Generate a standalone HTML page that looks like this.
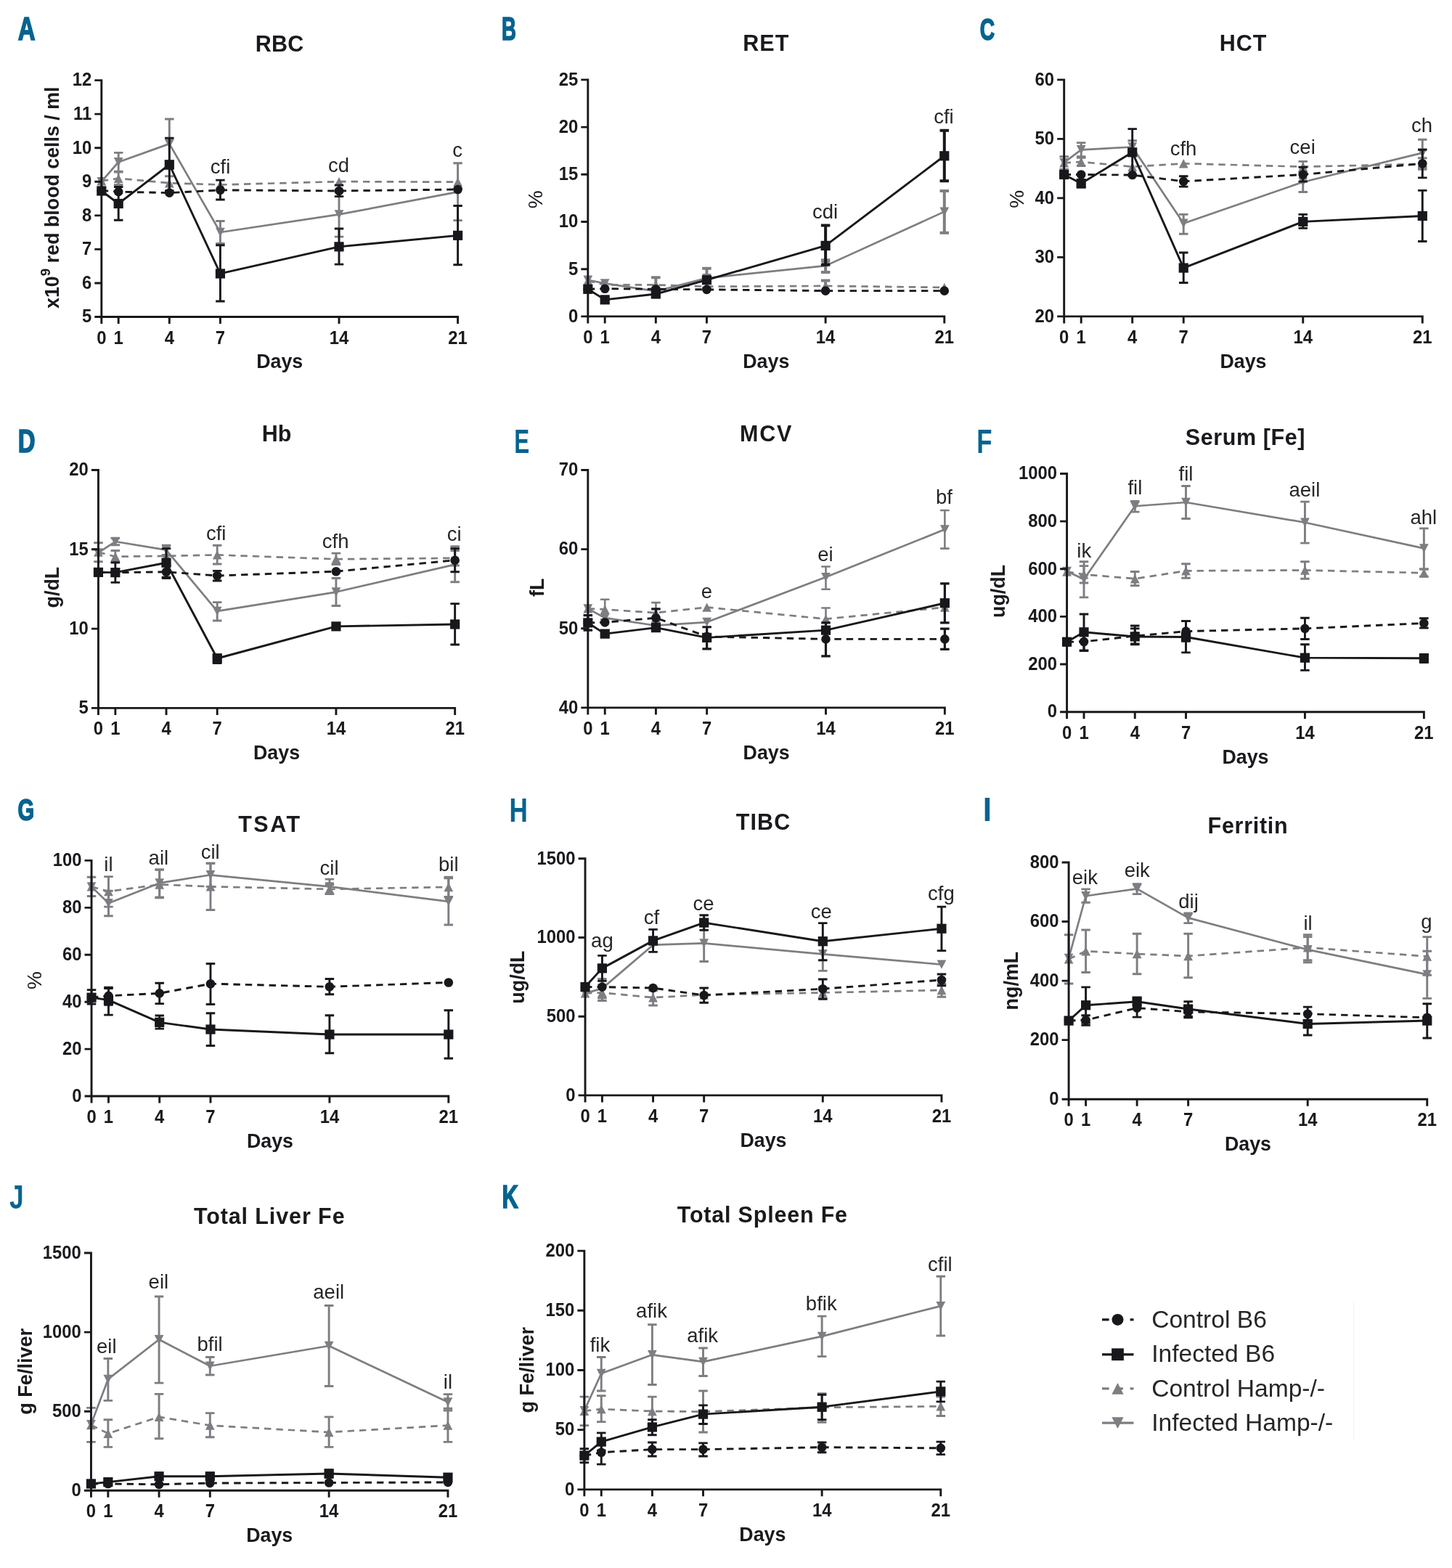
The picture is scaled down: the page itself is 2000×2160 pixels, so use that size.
<!DOCTYPE html>
<html lang="en">
<head>
<meta charset="utf-8">
<title>Hematological and iron parameters</title>
<style>
html,body{margin:0;padding:0;background:#fff;}
svg{display:block;}
svg text{font-family:"Liberation Sans",sans-serif;}
</style>
</head>
<body>
<svg width="2000" height="2160" viewBox="0 0 2000 2160">
<rect width="2000" height="2160" fill="#fff"/>
<g id="panelA">
<g stroke="#7d7e82" fill="none"><path d="M163.18 210.39V236.1M156.93 210.39h12.5M156.93 236.1h12.5M233.3 163.93V232.89M227.05 163.93h12.5M227.05 232.89h12.5M303.41 304.48V335.45M297.16 304.48h12.5M297.16 335.45h12.5M467.01 264.74V326.1M460.76 264.74h12.5M460.76 326.1h12.5M630.6 224.71V303.6M624.35 224.71h12.5M624.35 303.6h12.5" stroke-width="2.9"/><path d="M139.81 250.13L163.18 223.25L233.3 198.12L303.41 319.97L467.01 295.42L630.6 264.45" stroke-width="2.7" stroke-linejoin="round"/></g><path d="M133.41 243.93L146.21 243.93L139.81 256.33Z" fill="#7d7e82"/><path d="M156.78 217.05L169.58 217.05L163.18 229.45Z" fill="#7d7e82"/><path d="M226.9 191.92L239.7 191.92L233.3 204.32Z" fill="#7d7e82"/><path d="M297.01 313.77L309.81 313.77L303.41 326.17Z" fill="#7d7e82"/><path d="M460.61 289.22L473.41 289.22L467.01 301.62Z" fill="#7d7e82"/><path d="M624.2 258.25L637 258.25L630.6 270.65Z" fill="#7d7e82"/>
<g stroke="#7d7e82" fill="none"><path d="M163.18 236.98V254.51M156.93 236.98h12.5M156.93 254.51h12.5M233.3 242.82V262.4M227.05 242.82h12.5M227.05 262.4h12.5" stroke-width="2.9"/><path d="M139.81 249.25L163.18 245.75L233.3 252.18L303.41 254.51L467.01 250.13L630.6 250.71" stroke-width="2.7" stroke-linejoin="round" stroke-dasharray="9.4 7" stroke-linecap="butt"/></g><path d="M133.41 255.45L146.21 255.45L139.81 243.05Z" fill="#7d7e82"/><path d="M156.78 251.95L169.58 251.95L163.18 239.55Z" fill="#7d7e82"/><path d="M226.9 258.38L239.7 258.38L233.3 245.98Z" fill="#7d7e82"/><path d="M297.01 260.71L309.81 260.71L303.41 248.31Z" fill="#7d7e82"/><path d="M460.61 256.33L473.41 256.33L467.01 243.93Z" fill="#7d7e82"/><path d="M624.2 256.91L637 256.91L630.6 244.51Z" fill="#7d7e82"/>
<g stroke="#18181c" fill="none"><path d="M163.18 257.44V303.31M156.93 257.44h12.5M156.93 303.31h12.5M233.3 190.23V263.28M227.05 190.23h12.5M227.05 263.28h12.5M303.41 337.79V414.94M297.16 337.79h12.5M297.16 414.94h12.5M467.01 315V364.09M460.76 315h12.5M460.76 364.09h12.5M630.6 283.44V364.68M624.35 283.44h12.5M624.35 364.68h12.5" stroke-width="2.9"/><path d="M139.81 262.99L163.18 280.52L233.3 226.75L303.41 376.95L467.01 339.84L630.6 324.35" stroke-width="2.9" stroke-linejoin="round"/></g><rect x="133.21" y="256.39" width="13.2" height="13.2" fill="#18181c"/><rect x="156.58" y="273.92" width="13.2" height="13.2" fill="#18181c"/><rect x="226.7" y="220.15" width="13.2" height="13.2" fill="#18181c"/><rect x="296.81" y="370.35" width="13.2" height="13.2" fill="#18181c"/><rect x="460.41" y="333.24" width="13.2" height="13.2" fill="#18181c"/><rect x="624" y="317.75" width="13.2" height="13.2" fill="#18181c"/>
<g stroke="#18181c" fill="none"><path d="M303.41 248.08V274.97M297.16 248.08h12.5M297.16 274.97h12.5M467.01 255.1V270.58M460.76 255.1h12.5M460.76 270.58h12.5" stroke-width="2.9"/><path d="M139.81 262.4L163.18 264.16L233.3 265.62L303.41 261.82L467.01 262.99L630.6 260.94" stroke-width="2.9" stroke-linejoin="round" stroke-dasharray="9.4 7" stroke-linecap="butt"/></g><circle cx="139.81" cy="262.4" r="6.3" fill="#18181c"/><circle cx="163.18" cy="264.16" r="6.3" fill="#18181c"/><circle cx="233.3" cy="265.62" r="6.3" fill="#18181c"/><circle cx="303.41" cy="261.82" r="6.3" fill="#18181c"/><circle cx="467.01" cy="262.99" r="6.3" fill="#18181c"/><circle cx="630.6" cy="260.94" r="6.3" fill="#18181c"/>
<path d="M139.81 109.15V446M130.31 436.5H632.05M130.31 389.94H139.81M130.31 343.39H139.81M130.31 296.83H139.81M130.31 250.27H139.81M130.31 203.71H139.81M130.31 157.16H139.81M130.31 110.6H139.81M163.18 436.5V446M233.3 436.5V446M303.41 436.5V446M467.01 436.5V446M630.6 436.5V446" stroke="#18181c" stroke-width="2.9" fill="none"/>
<g font-weight="bold" font-size="26.5" fill="#1a1a1e"><text transform="translate(126.21 444.3) scale(0.9 1)" text-anchor="end">5</text><text transform="translate(126.21 397.74) scale(0.9 1)" text-anchor="end">6</text><text transform="translate(126.21 351.19) scale(0.9 1)" text-anchor="end">7</text><text transform="translate(126.21 304.63) scale(0.9 1)" text-anchor="end">8</text><text transform="translate(126.21 258.07) scale(0.9 1)" text-anchor="end">9</text><text transform="translate(126.21 211.51) scale(0.9 1)" text-anchor="end">10</text><text transform="translate(126.21 164.96) scale(0.9 1)" text-anchor="end">11</text><text transform="translate(126.21 118.4) scale(0.9 1)" text-anchor="end">12</text><text transform="translate(139.81 473.5) scale(0.9 1)" text-anchor="middle">0</text><text transform="translate(163.18 473.5) scale(0.9 1)" text-anchor="middle">1</text><text transform="translate(233.3 473.5) scale(0.9 1)" text-anchor="middle">4</text><text transform="translate(303.41 473.5) scale(0.9 1)" text-anchor="middle">7</text><text transform="translate(467.01 473.5) scale(0.9 1)" text-anchor="middle">14</text><text transform="translate(630.6 473.5) scale(0.9 1)" text-anchor="middle">21</text></g>
<text x="385.21" y="71" text-anchor="middle" font-weight="bold" font-size="30.5" fill="#1a1a1e" letter-spacing="0.3">RBC</text>
<text x="385.21" y="507.4" text-anchor="middle" font-weight="bold" font-size="26.8" fill="#1a1a1e">Days</text>
<text transform="translate(81.4 272.2) rotate(-90)" text-anchor="middle" font-weight="bold" font-size="26.8" fill="#1a1a1e">x10<tspan dy="-12.5" font-size="19">9</tspan><tspan dy="12.5"> red blood cells / ml</tspan></text>
<g font-size="27.5" fill="#262626" text-anchor="middle"><text x="303.51" y="239.44">cfi</text><text x="466.56" y="237.1">cd</text><text x="630.19" y="216.06">c</text></g>
<text transform="translate(24.8 55.3) scale(0.7368 1)" font-weight="bold" font-size="44.85" fill="#06638f" stroke="#06638f" stroke-width="1.7" stroke-linejoin="miter">A</text>
</g>
<g id="panelB">
<g stroke="#7d7e82" fill="none"><path d="M973.47 369.64V396.82M967.22 369.64h12.5M967.22 396.82h12.5M1137.12 358.25V374.9M1130.87 358.25h12.5M1130.87 374.9h12.5M1300.78 262.99V320.84M1294.53 262.99h12.5M1294.53 320.84h12.5" stroke-width="4.0"/><path d="M809.81 385.71L833.19 390.39L903.33 401.2L973.47 383.08L1137.12 366.14L1300.78 291.62" stroke-width="2.7" stroke-linejoin="round"/></g><path d="M803.41 379.51L816.21 379.51L809.81 391.91Z" fill="#7d7e82"/><path d="M826.79 384.19L839.59 384.19L833.19 396.59Z" fill="#7d7e82"/><path d="M896.93 395L909.73 395L903.33 407.4Z" fill="#7d7e82"/><path d="M967.07 376.88L979.87 376.88L973.47 389.28Z" fill="#7d7e82"/><path d="M1130.72 359.94L1143.52 359.94L1137.12 372.34Z" fill="#7d7e82"/><path d="M1294.38 285.42L1307.18 285.42L1300.78 297.82Z" fill="#7d7e82"/>
<g stroke="#7d7e82" fill="none"><path d="M903.33 382.21V402.66M897.08 382.21h12.5M897.08 402.66h12.5M1137.12 386.59V401.2M1130.87 386.59h12.5M1130.87 401.2h12.5" stroke-width="4.0"/><path d="M809.81 386.59L833.19 392.44L903.33 392.44L973.47 394.77L1137.12 393.9L1300.78 395.94" stroke-width="2.7" stroke-linejoin="round" stroke-dasharray="9.4 7" stroke-linecap="butt"/></g><path d="M803.41 392.79L816.21 392.79L809.81 380.39Z" fill="#7d7e82"/><path d="M826.79 398.64L839.59 398.64L833.19 386.24Z" fill="#7d7e82"/><path d="M896.93 398.64L909.73 398.64L903.33 386.24Z" fill="#7d7e82"/><path d="M967.07 400.97L979.87 400.97L973.47 388.57Z" fill="#7d7e82"/><path d="M1130.72 400.1L1143.52 400.1L1137.12 387.7Z" fill="#7d7e82"/><path d="M1294.38 402.14L1307.18 402.14L1300.78 389.74Z" fill="#7d7e82"/>
<g stroke="#18181c" fill="none"><path d="M1137.12 310.62V364.68M1130.87 310.62h12.5M1130.87 364.68h12.5M1300.78 179.71V249.25M1294.53 179.71h12.5M1294.53 249.25h12.5" stroke-width="4.0"/><path d="M809.81 398.28L833.19 412.89L903.33 405L973.47 385.71L1137.12 338.38L1300.78 214.77" stroke-width="2.9" stroke-linejoin="round"/></g><rect x="803.21" y="391.68" width="13.2" height="13.2" fill="#18181c"/><rect x="826.59" y="406.29" width="13.2" height="13.2" fill="#18181c"/><rect x="896.73" y="398.4" width="13.2" height="13.2" fill="#18181c"/><rect x="966.87" y="379.11" width="13.2" height="13.2" fill="#18181c"/><rect x="1130.52" y="331.78" width="13.2" height="13.2" fill="#18181c"/><rect x="1294.18" y="208.17" width="13.2" height="13.2" fill="#18181c"/>
<g stroke="#18181c" fill="none"><path d="M809.81 398.28L833.19 397.69L903.33 398.28L973.47 398.86L1137.12 400.62L1300.78 400.62" stroke-width="2.9" stroke-linejoin="round" stroke-dasharray="9.4 7" stroke-linecap="butt"/></g><circle cx="809.81" cy="398.28" r="6.3" fill="#18181c"/><circle cx="833.19" cy="397.69" r="6.3" fill="#18181c"/><circle cx="903.33" cy="398.28" r="6.3" fill="#18181c"/><circle cx="973.47" cy="398.86" r="6.3" fill="#18181c"/><circle cx="1137.12" cy="400.62" r="6.3" fill="#18181c"/><circle cx="1300.78" cy="400.62" r="6.3" fill="#18181c"/>
<path d="M809.81 108.42V445.42M800.31 435.92H1302.23M800.31 370.71H809.81M800.31 305.5H809.81M800.31 240.29H809.81M800.31 175.08H809.81M800.31 109.87H809.81M833.19 435.92V445.42M903.33 435.92V445.42M973.47 435.92V445.42M1137.12 435.92V445.42M1300.78 435.92V445.42" stroke="#18181c" stroke-width="2.9" fill="none"/>
<g font-weight="bold" font-size="26.5" fill="#1a1a1e"><text transform="translate(796.21 443.72) scale(0.9 1)" text-anchor="end">0</text><text transform="translate(796.21 378.51) scale(0.9 1)" text-anchor="end">5</text><text transform="translate(796.21 313.3) scale(0.9 1)" text-anchor="end">10</text><text transform="translate(796.21 248.09) scale(0.9 1)" text-anchor="end">15</text><text transform="translate(796.21 182.88) scale(0.9 1)" text-anchor="end">20</text><text transform="translate(796.21 117.67) scale(0.9 1)" text-anchor="end">25</text><text transform="translate(809.81 472.92) scale(0.9 1)" text-anchor="middle">0</text><text transform="translate(833.19 472.92) scale(0.9 1)" text-anchor="middle">1</text><text transform="translate(903.33 472.92) scale(0.9 1)" text-anchor="middle">4</text><text transform="translate(973.47 472.92) scale(0.9 1)" text-anchor="middle">7</text><text transform="translate(1137.12 472.92) scale(0.9 1)" text-anchor="middle">14</text><text transform="translate(1300.78 472.92) scale(0.9 1)" text-anchor="middle">21</text></g>
<text x="1055.3" y="70.27" text-anchor="middle" font-weight="bold" font-size="30.5" fill="#1a1a1e" letter-spacing="1.1">RET</text>
<text x="1055.3" y="506.82" text-anchor="middle" font-weight="bold" font-size="26.8" fill="#1a1a1e">Days</text>
<text transform="translate(747.42 287.16) rotate(-90)" font-weight="normal" font-size="28.0" fill="#1a1a1e">%</text>
<g font-size="27.5" fill="#262626" text-anchor="middle"><text x="1136.56" y="300.81">cdi</text><text x="1299.9" y="170.48">cfi</text></g>
<text transform="translate(691.07 55.15) scale(0.6275 1)" font-weight="bold" font-size="43.91" fill="#06638f" stroke="#06638f" stroke-width="1.7" stroke-linejoin="miter">B</text>
</g>
<g id="panelC">
<g stroke="#7d7e82" fill="none"><path d="M1489.19 196.66V215.65M1482.94 196.66h12.5M1482.94 215.65h12.5M1559.71 193.73V211.27M1553.46 193.73h12.5M1553.46 211.27h12.5M1630.22 295.42V322.31M1623.97 295.42h12.5M1623.97 322.31h12.5M1794.75 237.56V264.45M1788.5 237.56h12.5M1788.5 264.45h12.5M1959.29 192.27V229.68M1953.04 192.27h12.5M1953.04 229.68h12.5" stroke-width="2.9"/><path d="M1465.69 223.83L1489.19 206.3L1559.71 202.5L1630.22 307.69L1794.75 250.71L1959.29 210.68" stroke-width="2.7" stroke-linejoin="round"/></g><path d="M1459.29 217.63L1472.09 217.63L1465.69 230.03Z" fill="#7d7e82"/><path d="M1482.79 200.1L1495.59 200.1L1489.19 212.5Z" fill="#7d7e82"/><path d="M1553.31 196.3L1566.11 196.3L1559.71 208.7Z" fill="#7d7e82"/><path d="M1623.82 301.49L1636.62 301.49L1630.22 313.89Z" fill="#7d7e82"/><path d="M1788.35 244.51L1801.15 244.51L1794.75 256.91Z" fill="#7d7e82"/><path d="M1952.89 204.48L1965.69 204.48L1959.29 216.88Z" fill="#7d7e82"/>
<g stroke="#7d7e82" fill="none"><path d="M1465.69 215.65V233.18M1459.44 215.65h12.5M1459.44 233.18h12.5M1489.19 217.4V228.51M1482.94 217.4h12.5M1482.94 228.51h12.5M1794.75 222.37V236.98M1788.5 222.37h12.5M1788.5 236.98h12.5M1959.29 217.69V233.18M1953.04 217.69h12.5M1953.04 233.18h12.5" stroke-width="2.9"/><path d="M1465.69 224.42L1489.19 222.95L1559.71 229.68L1630.22 225.29L1794.75 229.68L1959.29 225.88" stroke-width="2.7" stroke-linejoin="round" stroke-dasharray="9.4 7" stroke-linecap="butt"/></g><path d="M1459.29 230.62L1472.09 230.62L1465.69 218.22Z" fill="#7d7e82"/><path d="M1482.79 229.15L1495.59 229.15L1489.19 216.75Z" fill="#7d7e82"/><path d="M1553.31 235.88L1566.11 235.88L1559.71 223.48Z" fill="#7d7e82"/><path d="M1623.82 231.49L1636.62 231.49L1630.22 219.09Z" fill="#7d7e82"/><path d="M1788.35 235.88L1801.15 235.88L1794.75 223.48Z" fill="#7d7e82"/><path d="M1952.89 232.08L1965.69 232.08L1959.29 219.68Z" fill="#7d7e82"/>
<g stroke="#18181c" fill="none"><path d="M1489.19 247.79V258.02M1482.94 247.79h12.5M1482.94 258.02h12.5M1559.71 177.66V241.95M1553.46 177.66h12.5M1553.46 241.95h12.5M1630.22 348.02V389.51M1623.97 348.02h12.5M1623.97 389.51h12.5M1794.75 295.42V314.42M1788.5 295.42h12.5M1788.5 314.42h12.5M1959.29 262.4V332.53M1953.04 262.4h12.5M1953.04 332.53h12.5" stroke-width="2.9"/><path d="M1465.69 240.49L1489.19 252.76L1559.71 209.81L1630.22 369.06L1794.75 305.36L1959.29 297.47" stroke-width="2.9" stroke-linejoin="round"/></g><rect x="1459.09" y="233.89" width="13.2" height="13.2" fill="#18181c"/><rect x="1482.59" y="246.16" width="13.2" height="13.2" fill="#18181c"/><rect x="1553.11" y="203.21" width="13.2" height="13.2" fill="#18181c"/><rect x="1623.62" y="362.46" width="13.2" height="13.2" fill="#18181c"/><rect x="1788.15" y="298.76" width="13.2" height="13.2" fill="#18181c"/><rect x="1952.69" y="290.87" width="13.2" height="13.2" fill="#18181c"/>
<g stroke="#18181c" fill="none"><path d="M1630.22 242.82V257.14M1623.97 242.82h12.5M1623.97 257.14h12.5M1794.75 230.26V250.13M1788.5 230.26h12.5M1788.5 250.13h12.5M1959.29 206.3V244.87M1953.04 206.3h12.5M1953.04 244.87h12.5" stroke-width="2.9"/><path d="M1465.69 240.49L1489.19 240.49L1559.71 241.07L1630.22 249.84L1794.75 240.49L1959.29 225.29" stroke-width="2.9" stroke-linejoin="round" stroke-dasharray="9.4 7" stroke-linecap="butt"/></g><circle cx="1465.69" cy="240.49" r="6.3" fill="#18181c"/><circle cx="1489.19" cy="240.49" r="6.3" fill="#18181c"/><circle cx="1559.71" cy="241.07" r="6.3" fill="#18181c"/><circle cx="1630.22" cy="249.84" r="6.3" fill="#18181c"/><circle cx="1794.75" cy="240.49" r="6.3" fill="#18181c"/><circle cx="1959.29" cy="225.29" r="6.3" fill="#18181c"/>
<path d="M1465.69 108.42V445.42M1456.19 435.92H1960.74M1456.19 354.4H1465.69M1456.19 272.89H1465.69M1456.19 191.38H1465.69M1456.19 109.87H1465.69M1489.19 435.92V445.42M1559.71 435.92V445.42M1630.22 435.92V445.42M1794.75 435.92V445.42M1959.29 435.92V445.42" stroke="#18181c" stroke-width="2.9" fill="none"/>
<g font-weight="bold" font-size="26.5" fill="#1a1a1e"><text transform="translate(1452.09 443.72) scale(0.9 1)" text-anchor="end">20</text><text transform="translate(1452.09 362.2) scale(0.9 1)" text-anchor="end">30</text><text transform="translate(1452.09 280.69) scale(0.9 1)" text-anchor="end">40</text><text transform="translate(1452.09 199.18) scale(0.9 1)" text-anchor="end">50</text><text transform="translate(1452.09 117.67) scale(0.9 1)" text-anchor="end">60</text><text transform="translate(1465.69 472.92) scale(0.9 1)" text-anchor="middle">0</text><text transform="translate(1489.19 472.92) scale(0.9 1)" text-anchor="middle">1</text><text transform="translate(1559.71 472.92) scale(0.9 1)" text-anchor="middle">4</text><text transform="translate(1630.22 472.92) scale(0.9 1)" text-anchor="middle">7</text><text transform="translate(1794.75 472.92) scale(0.9 1)" text-anchor="middle">14</text><text transform="translate(1959.29 472.92) scale(0.9 1)" text-anchor="middle">21</text></g>
<text x="1712.49" y="70.27" text-anchor="middle" font-weight="bold" font-size="30.5" fill="#1a1a1e" letter-spacing="0.9">HCT</text>
<text x="1712.49" y="506.82" text-anchor="middle" font-weight="bold" font-size="26.8" fill="#1a1a1e">Days</text>
<text transform="translate(1409.72 286.76) rotate(-90)" font-weight="normal" font-size="28.0" fill="#1a1a1e">%</text>
<g font-size="27.5" fill="#262626" text-anchor="middle"><text x="1629.97" y="213.73">cfh</text><text x="1794.19" y="211.68">cei</text><text x="1958.41" y="182.46">ch</text></g>
<text transform="translate(1349.67 54.72) scale(0.6601 1)" font-weight="bold" font-size="42.68" fill="#06638f" stroke="#06638f" stroke-width="1.7" stroke-linejoin="miter">C</text>
</g>
<g id="panelD">
<g stroke="#7d7e82" fill="none"><path d="M158.85 741.33V750.68M152.6 741.33h12.5M152.6 750.68h12.5M229.02 751.27V764.42M222.77 751.27h12.5M222.77 764.42h12.5M299.19 829.58V855M292.94 829.58h12.5M292.94 855h12.5M462.92 796.56V834.55M456.67 796.56h12.5M456.67 834.55h12.5M626.66 752.73V801.82M620.41 752.73h12.5M620.41 801.82h12.5" stroke-width="2.9"/><path d="M135.45 761.49L158.85 746.01L229.02 757.69L299.19 841.85L462.92 815.55L626.66 777.56" stroke-width="2.7" stroke-linejoin="round"/></g><path d="M129.05 755.29L141.85 755.29L135.45 767.69Z" fill="#7d7e82"/><path d="M152.45 739.81L165.25 739.81L158.85 752.21Z" fill="#7d7e82"/><path d="M222.62 751.49L235.42 751.49L229.02 763.89Z" fill="#7d7e82"/><path d="M292.79 835.65L305.59 835.65L299.19 848.05Z" fill="#7d7e82"/><path d="M456.52 809.35L469.32 809.35L462.92 821.75Z" fill="#7d7e82"/><path d="M620.26 771.36L633.06 771.36L626.66 783.76Z" fill="#7d7e82"/>
<g stroke="#7d7e82" fill="none"><path d="M135.45 747.76V773.77M129.2 747.76h12.5M129.2 773.77h12.5M158.85 758.57V775.23M152.6 758.57h12.5M152.6 775.23h12.5M299.19 751.27V776.98M292.94 751.27h12.5M292.94 776.98h12.5M462.92 762.08V777.56M456.67 762.08h12.5M456.67 777.56h12.5M626.66 758.57V779.03M620.41 758.57h12.5M620.41 779.03h12.5" stroke-width="2.9"/><path d="M135.45 760.62L158.85 766.75L229.02 765.88L299.19 764.42L462.92 770.26L626.66 768.8" stroke-width="2.7" stroke-linejoin="round" stroke-dasharray="9.4 7" stroke-linecap="butt"/></g><path d="M129.05 766.82L141.85 766.82L135.45 754.42Z" fill="#7d7e82"/><path d="M152.45 772.95L165.25 772.95L158.85 760.55Z" fill="#7d7e82"/><path d="M222.62 772.08L235.42 772.08L229.02 759.68Z" fill="#7d7e82"/><path d="M292.79 770.62L305.59 770.62L299.19 758.22Z" fill="#7d7e82"/><path d="M456.52 776.46L469.32 776.46L462.92 764.06Z" fill="#7d7e82"/><path d="M620.26 775L633.06 775L626.66 762.6Z" fill="#7d7e82"/>
<g stroke="#18181c" fill="none"><path d="M158.85 774.64V802.4M152.6 774.64h12.5M152.6 802.4h12.5M229.02 755.65V795.1M222.77 755.65h12.5M222.77 795.1h12.5M299.19 901.75V913.44M292.94 901.75h12.5M292.94 913.44h12.5M626.66 831.62V888.02M620.41 831.62h12.5M620.41 888.02h12.5" stroke-width="2.9"/><path d="M135.45 788.38L158.85 788.67L229.02 775.23L299.19 907.01L462.92 862.89L626.66 859.97" stroke-width="2.9" stroke-linejoin="round"/></g><rect x="128.85" y="781.78" width="13.2" height="13.2" fill="#18181c"/><rect x="152.25" y="782.07" width="13.2" height="13.2" fill="#18181c"/><rect x="222.42" y="768.63" width="13.2" height="13.2" fill="#18181c"/><rect x="292.59" y="900.41" width="13.2" height="13.2" fill="#18181c"/><rect x="456.32" y="856.29" width="13.2" height="13.2" fill="#18181c"/><rect x="620.06" y="853.37" width="13.2" height="13.2" fill="#18181c"/>
<g stroke="#18181c" fill="none"><path d="M229.02 779.03V796.56M222.77 779.03h12.5M222.77 796.56h12.5M299.19 786.33V800.06M292.94 786.33h12.5M292.94 800.06h12.5M626.66 755.65V787.79M620.41 755.65h12.5M620.41 787.79h12.5" stroke-width="2.9"/><path d="M135.45 788.38L158.85 788.67L229.02 787.79L299.19 793.05L462.92 787.21L626.66 771.72" stroke-width="2.9" stroke-linejoin="round" stroke-dasharray="9.4 7" stroke-linecap="butt"/></g><circle cx="135.45" cy="788.38" r="6.3" fill="#18181c"/><circle cx="158.85" cy="788.67" r="6.3" fill="#18181c"/><circle cx="229.02" cy="787.79" r="6.3" fill="#18181c"/><circle cx="299.19" cy="793.05" r="6.3" fill="#18181c"/><circle cx="462.92" cy="787.21" r="6.3" fill="#18181c"/><circle cx="626.66" cy="771.72" r="6.3" fill="#18181c"/>
<path d="M135.45 646.08V984.89M125.95 975.39H628.11M125.95 866.1H135.45M125.95 756.82H135.45M125.95 647.53H135.45M158.85 975.39V984.89M229.02 975.39V984.89M299.19 975.39V984.89M462.92 975.39V984.89M626.66 975.39V984.89" stroke="#18181c" stroke-width="2.9" fill="none"/>
<g font-weight="bold" font-size="26.5" fill="#1a1a1e"><text transform="translate(121.85 983.19) scale(0.9 1)" text-anchor="end">5</text><text transform="translate(121.85 873.9) scale(0.9 1)" text-anchor="end">10</text><text transform="translate(121.85 764.62) scale(0.9 1)" text-anchor="end">15</text><text transform="translate(121.85 655.33) scale(0.9 1)" text-anchor="end">20</text><text transform="translate(135.45 1012.39) scale(0.9 1)" text-anchor="middle">0</text><text transform="translate(158.85 1012.39) scale(0.9 1)" text-anchor="middle">1</text><text transform="translate(229.02 1012.39) scale(0.9 1)" text-anchor="middle">4</text><text transform="translate(299.19 1012.39) scale(0.9 1)" text-anchor="middle">7</text><text transform="translate(462.92 1012.39) scale(0.9 1)" text-anchor="middle">14</text><text transform="translate(626.66 1012.39) scale(0.9 1)" text-anchor="middle">21</text></g>
<text x="381.06" y="607.93" text-anchor="middle" font-weight="bold" font-size="30.5" fill="#1a1a1e">Hb</text>
<text x="381.06" y="1046.29" text-anchor="middle" font-weight="bold" font-size="26.8" fill="#1a1a1e">Days</text>
<text transform="translate(80.59 837.51) rotate(-90)" font-weight="bold" font-size="26.9" fill="#1a1a1e">g/dL</text>
<g font-size="27.5" fill="#262626" text-anchor="middle"><text x="297.63" y="743.5">cfi</text><text x="462.14" y="755.19">cfh</text><text x="625.78" y="744.96">ci</text></g>
<text transform="translate(24.79 623.15) scale(0.7386 1)" font-weight="bold" font-size="44.64" fill="#06638f" stroke="#06638f" stroke-width="1.7" stroke-linejoin="miter">D</text>
</g>
<g id="panelE">
<g stroke="#7d7e82" fill="none"><path d="M1137.51 780.49V811.75M1131.26 780.49h12.5M1131.26 811.75h12.5M1301.36 703.05V755.65M1295.11 703.05h12.5M1295.11 755.65h12.5" stroke-width="2.6"/><path d="M809.81 838.34L833.22 851.2L903.44 861.72L973.66 857.05L1137.51 795.1L1301.36 729.35" stroke-width="2.7" stroke-linejoin="round"/></g><path d="M803.41 832.14L816.21 832.14L809.81 844.54Z" fill="#7d7e82"/><path d="M826.82 845L839.62 845L833.22 857.4Z" fill="#7d7e82"/><path d="M897.04 855.52L909.84 855.52L903.44 867.92Z" fill="#7d7e82"/><path d="M967.26 850.85L980.06 850.85L973.66 863.25Z" fill="#7d7e82"/><path d="M1131.11 788.9L1143.91 788.9L1137.51 801.3Z" fill="#7d7e82"/><path d="M1294.96 723.15L1307.76 723.15L1301.36 735.55Z" fill="#7d7e82"/>
<g stroke="#7d7e82" fill="none"><path d="M833.22 825.78V853.54M826.97 825.78h12.5M826.97 853.54h12.5M903.44 830.16V857.92M897.19 830.16h12.5M897.19 857.92h12.5M1137.51 837.47V868.15M1131.26 837.47h12.5M1131.26 868.15h12.5" stroke-width="2.6"/><path d="M809.81 838.34L833.22 839.51L903.44 844.19L973.66 836.59L1137.51 852.66L1301.36 836.59" stroke-width="2.7" stroke-linejoin="round" stroke-dasharray="9.4 7" stroke-linecap="butt"/></g><path d="M803.41 844.54L816.21 844.54L809.81 832.14Z" fill="#7d7e82"/><path d="M826.82 845.71L839.62 845.71L833.22 833.31Z" fill="#7d7e82"/><path d="M897.04 850.39L909.84 850.39L903.44 837.99Z" fill="#7d7e82"/><path d="M967.26 842.79L980.06 842.79L973.66 830.39Z" fill="#7d7e82"/><path d="M1131.11 858.86L1143.91 858.86L1137.51 846.46Z" fill="#7d7e82"/><path d="M1294.96 842.79L1307.76 842.79L1301.36 830.39Z" fill="#7d7e82"/>
<g stroke="#18181c" fill="none"><path d="M809.81 847.69V868.15M803.56 847.69h12.5M803.56 868.15h12.5M973.66 863.77V893.86M967.41 863.77h12.5M967.41 893.86h12.5M1301.36 803.86V857.92M1295.11 803.86h12.5M1295.11 857.92h12.5" stroke-width="3.2"/><path d="M809.81 857.92L833.22 873.12L903.44 864.64L973.66 878.38L1137.51 868.15L1301.36 830.75" stroke-width="2.9" stroke-linejoin="round"/></g><rect x="803.21" y="851.32" width="13.2" height="13.2" fill="#18181c"/><rect x="826.62" y="866.52" width="13.2" height="13.2" fill="#18181c"/><rect x="896.84" y="858.04" width="13.2" height="13.2" fill="#18181c"/><rect x="967.06" y="871.78" width="13.2" height="13.2" fill="#18181c"/><rect x="1130.91" y="861.55" width="13.2" height="13.2" fill="#18181c"/><rect x="1294.76" y="824.15" width="13.2" height="13.2" fill="#18181c"/>
<g stroke="#18181c" fill="none"><path d="M903.44 838.93V863.77M897.19 838.93h12.5M897.19 863.77h12.5M1137.51 857.92V903.8M1131.26 857.92h12.5M1131.26 903.8h12.5M1301.36 866.1V894.45M1295.11 866.1h12.5M1295.11 894.45h12.5" stroke-width="3.2"/><path d="M809.81 857.92L833.22 857.34L903.44 851.2L973.66 876.92L1137.51 880.42L1301.36 880.42" stroke-width="2.9" stroke-linejoin="round" stroke-dasharray="9.4 7" stroke-linecap="butt"/></g><circle cx="809.81" cy="857.92" r="6.3" fill="#18181c"/><circle cx="833.22" cy="857.34" r="6.3" fill="#18181c"/><circle cx="903.44" cy="851.2" r="6.3" fill="#18181c"/><circle cx="973.66" cy="876.92" r="6.3" fill="#18181c"/><circle cx="1137.51" cy="880.42" r="6.3" fill="#18181c"/><circle cx="1301.36" cy="880.42" r="6.3" fill="#18181c"/>
<path d="M809.81 646.08V984.39M800.31 974.89H1302.81M800.31 865.77H809.81M800.31 756.65H809.81M800.31 647.53H809.81M833.22 974.89V984.39M903.44 974.89V984.39M973.66 974.89V984.39M1137.51 974.89V984.39M1301.36 974.89V984.39" stroke="#18181c" stroke-width="2.9" fill="none"/>
<g font-weight="bold" font-size="26.5" fill="#1a1a1e"><text transform="translate(796.21 982.69) scale(0.9 1)" text-anchor="end">40</text><text transform="translate(796.21 873.57) scale(0.9 1)" text-anchor="end">50</text><text transform="translate(796.21 764.45) scale(0.9 1)" text-anchor="end">60</text><text transform="translate(796.21 655.33) scale(0.9 1)" text-anchor="end">70</text><text transform="translate(809.81 1011.89) scale(0.9 1)" text-anchor="middle">0</text><text transform="translate(833.22 1011.89) scale(0.9 1)" text-anchor="middle">1</text><text transform="translate(903.44 1011.89) scale(0.9 1)" text-anchor="middle">4</text><text transform="translate(973.66 1011.89) scale(0.9 1)" text-anchor="middle">7</text><text transform="translate(1137.51 1011.89) scale(0.9 1)" text-anchor="middle">14</text><text transform="translate(1301.36 1011.89) scale(0.9 1)" text-anchor="middle">21</text></g>
<text x="1055.59" y="607.93" text-anchor="middle" font-weight="bold" font-size="30.5" fill="#1a1a1e" letter-spacing="1.8">MCV</text>
<text x="1055.59" y="1045.79" text-anchor="middle" font-weight="bold" font-size="26.8" fill="#1a1a1e">Days</text>
<text transform="translate(748.82 821.91) rotate(-90)" font-weight="bold" font-size="26.9" fill="#1a1a1e">fL</text>
<g font-size="27.5" fill="#262626" text-anchor="middle"><text x="973.51" y="823.86">e</text><text x="1136.85" y="773.31">ei</text><text x="1300.49" y="694.41">bf</text></g>
<text transform="translate(708.2 624) scale(0.6673 1)" font-weight="bold" font-size="47.1" fill="#06638f">E</text>
</g>
<g id="panelF">
<g stroke="#7d7e82" fill="none"><path d="M1493 773.8V822.89M1486.75 773.8h12.5M1486.75 822.89h12.5M1563.25 690.52V705.13M1557 690.52h12.5M1557 705.13h12.5M1633.51 669.48V714.48M1627.26 669.48h12.5M1627.26 714.48h12.5M1797.44 691.1V748.08M1791.19 691.1h12.5M1791.19 748.08h12.5M1961.36 727.92V784.03M1955.11 727.92h12.5M1955.11 784.03h12.5" stroke-width="2.9"/><path d="M1469.58 786.95L1493 798.05L1563.25 697.24L1633.51 691.98L1797.44 719.74L1961.36 755.39" stroke-width="2.7" stroke-linejoin="round"/></g><path d="M1463.18 780.75L1475.98 780.75L1469.58 793.15Z" fill="#7d7e82"/><path d="M1486.6 791.85L1499.4 791.85L1493 804.25Z" fill="#7d7e82"/><path d="M1556.85 691.04L1569.65 691.04L1563.25 703.44Z" fill="#7d7e82"/><path d="M1627.11 685.78L1639.91 685.78L1633.51 698.18Z" fill="#7d7e82"/><path d="M1791.04 713.54L1803.84 713.54L1797.44 725.94Z" fill="#7d7e82"/><path d="M1954.96 749.19L1967.76 749.19L1961.36 761.59Z" fill="#7d7e82"/>
<g stroke="#7d7e82" fill="none"><path d="M1493 779.64V803.02M1486.75 779.64h12.5M1486.75 803.02h12.5M1563.25 787.53V806.82M1557 787.53h12.5M1557 806.82h12.5M1633.51 776.72V796.3M1627.26 776.72h12.5M1627.26 796.3h12.5M1797.44 773.8V797.18M1791.19 773.8h12.5M1791.19 797.18h12.5M1961.36 784.03V794.25M1955.11 784.03h12.5M1955.11 794.25h12.5" stroke-width="2.9"/><path d="M1469.58 787.53L1493 791.33L1563.25 797.18L1633.51 786.36L1797.44 785.49L1961.36 789.29" stroke-width="2.7" stroke-linejoin="round" stroke-dasharray="9.4 7" stroke-linecap="butt"/></g><path d="M1463.18 793.73L1475.98 793.73L1469.58 781.33Z" fill="#7d7e82"/><path d="M1486.6 797.53L1499.4 797.53L1493 785.13Z" fill="#7d7e82"/><path d="M1556.85 803.38L1569.65 803.38L1563.25 790.98Z" fill="#7d7e82"/><path d="M1627.11 792.56L1639.91 792.56L1633.51 780.16Z" fill="#7d7e82"/><path d="M1791.04 791.69L1803.84 791.69L1797.44 779.29Z" fill="#7d7e82"/><path d="M1954.96 795.49L1967.76 795.49L1961.36 783.09Z" fill="#7d7e82"/>
<g stroke="#18181c" fill="none"><path d="M1493 845.97V895.94M1486.75 845.97h12.5M1486.75 895.94h12.5M1563.25 862.05V887.76M1557 862.05h12.5M1557 887.76h12.5M1633.51 855.62V898.86M1627.26 855.62h12.5M1627.26 898.86h12.5M1797.44 887.76V923.41M1791.19 887.76h12.5M1791.19 923.41h12.5M1961.36 901.49V912.6M1955.11 901.49h12.5M1955.11 912.6h12.5" stroke-width="2.9"/><path d="M1469.58 884.25L1493 870.81L1563.25 876.95L1633.51 877.53L1797.44 906.17L1961.36 906.75" stroke-width="2.9" stroke-linejoin="round"/></g><rect x="1462.98" y="877.65" width="13.2" height="13.2" fill="#18181c"/><rect x="1486.4" y="864.21" width="13.2" height="13.2" fill="#18181c"/><rect x="1556.65" y="870.35" width="13.2" height="13.2" fill="#18181c"/><rect x="1626.91" y="870.93" width="13.2" height="13.2" fill="#18181c"/><rect x="1790.84" y="899.57" width="13.2" height="13.2" fill="#18181c"/><rect x="1954.76" y="900.15" width="13.2" height="13.2" fill="#18181c"/>
<g stroke="#18181c" fill="none"><path d="M1493 871.1V896.53M1486.75 871.1h12.5M1486.75 896.53h12.5M1563.25 865.84V886.88M1557 865.84h12.5M1557 886.88h12.5M1633.51 855.62V883.38M1627.26 855.62h12.5M1627.26 883.38h12.5M1797.44 851.23V880.45M1791.19 851.23h12.5M1791.19 880.45h12.5M1961.36 851.82V864.97M1955.11 851.82h12.5M1955.11 864.97h12.5" stroke-width="2.9"/><path d="M1469.58 884.25L1493 883.96L1563.25 876.07L1633.51 869.64L1797.44 865.84L1961.36 858.54" stroke-width="2.9" stroke-linejoin="round" stroke-dasharray="9.4 7" stroke-linecap="butt"/></g><circle cx="1469.58" cy="884.25" r="6.3" fill="#18181c"/><circle cx="1493" cy="883.96" r="6.3" fill="#18181c"/><circle cx="1563.25" cy="876.07" r="6.3" fill="#18181c"/><circle cx="1633.51" cy="869.64" r="6.3" fill="#18181c"/><circle cx="1797.44" cy="865.84" r="6.3" fill="#18181c"/><circle cx="1961.36" cy="858.54" r="6.3" fill="#18181c"/>
<path d="M1469.58 651.08V990.18M1460.08 980.68H1962.81M1460.08 915.05H1469.58M1460.08 849.42H1469.58M1460.08 783.79H1469.58M1460.08 718.16H1469.58M1460.08 652.53H1469.58M1493 980.68V990.18M1563.25 980.68V990.18M1633.51 980.68V990.18M1797.44 980.68V990.18M1961.36 980.68V990.18" stroke="#18181c" stroke-width="2.9" fill="none"/>
<g font-weight="bold" font-size="26.5" fill="#1a1a1e"><text transform="translate(1455.98 988.48) scale(0.9 1)" text-anchor="end">0</text><text transform="translate(1455.98 922.85) scale(0.9 1)" text-anchor="end">200</text><text transform="translate(1455.98 857.22) scale(0.9 1)" text-anchor="end">400</text><text transform="translate(1455.98 791.59) scale(0.9 1)" text-anchor="end">600</text><text transform="translate(1455.98 725.96) scale(0.9 1)" text-anchor="end">800</text><text transform="translate(1455.98 660.33) scale(0.9 1)" text-anchor="end">1000</text><text transform="translate(1469.58 1017.68) scale(0.9 1)" text-anchor="middle">0</text><text transform="translate(1493 1017.68) scale(0.9 1)" text-anchor="middle">1</text><text transform="translate(1563.25 1017.68) scale(0.9 1)" text-anchor="middle">4</text><text transform="translate(1633.51 1017.68) scale(0.9 1)" text-anchor="middle">7</text><text transform="translate(1797.44 1017.68) scale(0.9 1)" text-anchor="middle">14</text><text transform="translate(1961.36 1017.68) scale(0.9 1)" text-anchor="middle">21</text></g>
<text x="1715.47" y="612.93" text-anchor="middle" font-weight="bold" font-size="30.5" fill="#1a1a1e" letter-spacing="0.6">Serum [Fe]</text>
<text x="1715.47" y="1051.58" text-anchor="middle" font-weight="bold" font-size="26.8" fill="#1a1a1e">Days</text>
<text transform="translate(1383.99 850.99) rotate(-90)" font-weight="bold" font-size="26.9" fill="#1a1a1e">ug/dL</text>
<g font-size="27.5" fill="#262626" text-anchor="middle"><text x="1493.25" y="768.37">ik</text><text x="1563.38" y="681.29">fil</text><text x="1633.51" y="662.3">fil</text><text x="1796.85" y="683.63">aeil</text><text x="1960.78" y="721.62">ahl</text></g>
<text transform="translate(1345.16 624) scale(0.7388 1)" font-weight="bold" font-size="47.1" fill="#06638f">F</text>
</g>
<g id="panelG">
<g stroke="#7d7e82" fill="none"><path d="M149.46 1227.21V1261.69M143.21 1227.21h12.5M143.21 1261.69h12.5M219.71 1197.99V1235.97M213.46 1197.99h12.5M213.46 1235.97h12.5M289.97 1189.22V1221.36M283.72 1189.22h12.5M283.72 1221.36h12.5M453.9 1211.14V1231.59M447.65 1211.14h12.5M447.65 1231.59h12.5M617.82 1209.68V1273.96M611.57 1209.68h12.5M611.57 1273.96h12.5" stroke-width="2.9"/><path d="M126.04 1221.36L149.46 1244.16L219.71 1216.4L289.97 1205.29L453.9 1221.36L617.82 1241.82" stroke-width="2.7" stroke-linejoin="round"/></g><path d="M119.64 1215.16L132.44 1215.16L126.04 1227.56Z" fill="#7d7e82"/><path d="M143.06 1237.96L155.86 1237.96L149.46 1250.36Z" fill="#7d7e82"/><path d="M213.31 1210.2L226.11 1210.2L219.71 1222.6Z" fill="#7d7e82"/><path d="M283.57 1199.09L296.37 1199.09L289.97 1211.49Z" fill="#7d7e82"/><path d="M447.5 1215.16L460.3 1215.16L453.9 1227.56Z" fill="#7d7e82"/><path d="M611.42 1235.62L624.22 1235.62L617.82 1248.02Z" fill="#7d7e82"/>
<g stroke="#7d7e82" fill="none"><path d="M126.04 1208.21V1234.51M119.79 1208.21h12.5M119.79 1234.51h12.5M149.46 1207.63V1249.12M143.21 1207.63h12.5M143.21 1249.12h12.5M219.71 1197.99V1236.85M213.46 1197.99h12.5M213.46 1236.85h12.5M289.97 1189.22V1253.51M283.72 1189.22h12.5M283.72 1253.51h12.5M453.9 1218.44V1231.59M447.65 1218.44h12.5M447.65 1231.59h12.5M617.82 1208.21V1235.39M611.57 1208.21h12.5M611.57 1235.39h12.5" stroke-width="2.9"/><path d="M126.04 1221.36L149.46 1228.08L219.71 1218.44L289.97 1221.36L453.9 1224.87L617.82 1221.95" stroke-width="2.7" stroke-linejoin="round" stroke-dasharray="9.4 7" stroke-linecap="butt"/></g><path d="M119.64 1227.56L132.44 1227.56L126.04 1215.16Z" fill="#7d7e82"/><path d="M143.06 1234.28L155.86 1234.28L149.46 1221.88Z" fill="#7d7e82"/><path d="M213.31 1224.64L226.11 1224.64L219.71 1212.24Z" fill="#7d7e82"/><path d="M283.57 1227.56L296.37 1227.56L289.97 1215.16Z" fill="#7d7e82"/><path d="M447.5 1231.07L460.3 1231.07L453.9 1218.67Z" fill="#7d7e82"/><path d="M611.42 1228.15L624.22 1228.15L617.82 1215.75Z" fill="#7d7e82"/>
<g stroke="#18181c" fill="none"><path d="M149.46 1361.62V1398.15M143.21 1361.62h12.5M143.21 1398.15h12.5M219.71 1399.03V1417.14M213.46 1399.03h12.5M213.46 1417.14h12.5M289.97 1395.81V1440.52M283.72 1395.81h12.5M283.72 1440.52h12.5M453.9 1398.73V1450.75M447.65 1398.73h12.5M447.65 1450.75h12.5M617.82 1391.72V1458.05M611.57 1391.72h12.5M611.57 1458.05h12.5" stroke-width="2.9"/><path d="M126.04 1374.19L149.46 1377.69L219.71 1408.38L289.97 1418.02L453.9 1425.03L617.82 1425.03" stroke-width="2.9" stroke-linejoin="round"/></g><rect x="119.44" y="1367.59" width="13.2" height="13.2" fill="#18181c"/><rect x="142.86" y="1371.09" width="13.2" height="13.2" fill="#18181c"/><rect x="213.11" y="1401.78" width="13.2" height="13.2" fill="#18181c"/><rect x="283.37" y="1411.42" width="13.2" height="13.2" fill="#18181c"/><rect x="447.3" y="1418.43" width="13.2" height="13.2" fill="#18181c"/><rect x="611.22" y="1418.43" width="13.2" height="13.2" fill="#18181c"/>
<g stroke="#18181c" fill="none"><path d="M126.04 1363.67V1382.95M119.79 1363.67h12.5M119.79 1382.95h12.5M149.46 1360.16V1384.42M143.21 1360.16h12.5M143.21 1384.42h12.5M219.71 1354.32V1382.66M213.46 1354.32h12.5M213.46 1382.66h12.5M289.97 1327.44V1383.54M283.72 1327.44h12.5M283.72 1383.54h12.5M453.9 1348.47V1369.81M447.65 1348.47h12.5M447.65 1369.81h12.5" stroke-width="2.9"/><path d="M126.04 1374.19L149.46 1371.85L219.71 1368.34L289.97 1355.19L453.9 1359.29L617.82 1353.44" stroke-width="2.9" stroke-linejoin="round" stroke-dasharray="9.4 7" stroke-linecap="butt"/></g><circle cx="126.04" cy="1374.19" r="6.3" fill="#18181c"/><circle cx="149.46" cy="1371.85" r="6.3" fill="#18181c"/><circle cx="219.71" cy="1368.34" r="6.3" fill="#18181c"/><circle cx="289.97" cy="1355.19" r="6.3" fill="#18181c"/><circle cx="453.9" cy="1359.29" r="6.3" fill="#18181c"/><circle cx="617.82" cy="1353.44" r="6.3" fill="#18181c"/>
<path d="M126.04 1183.97V1519.56M116.54 1510.06H619.27M116.54 1445.14H126.04M116.54 1380.21H126.04M116.54 1315.28H126.04M116.54 1250.35H126.04M116.54 1185.42H126.04M149.46 1510.06V1519.56M219.71 1510.06V1519.56M289.97 1510.06V1519.56M453.9 1510.06V1519.56M617.82 1510.06V1519.56" stroke="#18181c" stroke-width="2.9" fill="none"/>
<g font-weight="bold" font-size="26.5" fill="#1a1a1e"><text transform="translate(112.44 1517.86) scale(0.9 1)" text-anchor="end">0</text><text transform="translate(112.44 1452.94) scale(0.9 1)" text-anchor="end">20</text><text transform="translate(112.44 1388.01) scale(0.9 1)" text-anchor="end">40</text><text transform="translate(112.44 1323.08) scale(0.9 1)" text-anchor="end">60</text><text transform="translate(112.44 1258.15) scale(0.9 1)" text-anchor="end">80</text><text transform="translate(112.44 1193.22) scale(0.9 1)" text-anchor="end">100</text><text transform="translate(126.04 1547.06) scale(0.9 1)" text-anchor="middle">0</text><text transform="translate(149.46 1547.06) scale(0.9 1)" text-anchor="middle">1</text><text transform="translate(219.71 1547.06) scale(0.9 1)" text-anchor="middle">4</text><text transform="translate(289.97 1547.06) scale(0.9 1)" text-anchor="middle">7</text><text transform="translate(453.9 1547.06) scale(0.9 1)" text-anchor="middle">14</text><text transform="translate(617.82 1547.06) scale(0.9 1)" text-anchor="middle">21</text></g>
<text x="371.93" y="1145.82" text-anchor="middle" font-weight="bold" font-size="30.5" fill="#1a1a1e" letter-spacing="2.5">TSAT</text>
<text x="371.93" y="1580.96" text-anchor="middle" font-weight="bold" font-size="26.8" fill="#1a1a1e">Days</text>
<text transform="translate(57.32 1362.96) rotate(-90)" font-weight="normal" font-size="28.0" fill="#1a1a1e">%</text>
<g font-size="27.5" fill="#262626" text-anchor="middle"><text x="149.42" y="1199.57">il</text><text x="218.38" y="1191.1">ail</text><text x="289.68" y="1182.92">cil</text><text x="453.6" y="1204.83">cil</text><text x="617.82" y="1200.45">bil</text></g>
<text transform="translate(24.43 1130.22) scale(0.6716 1)" font-weight="bold" font-size="43.38" fill="#06638f" stroke="#06638f" stroke-width="1.7" stroke-linejoin="miter">G</text>
</g>
<g id="panelH">
<g stroke="#7d7e82" fill="none"><path d="M829.42 1348.47V1374.77M823.17 1348.47h12.5M823.17 1374.77h12.5M969.68 1274.55V1324.51M963.43 1274.55h12.5M963.43 1324.51h12.5M1133.31 1291.49V1337.37M1127.06 1291.49h12.5M1127.06 1337.37h12.5" stroke-width="2.9"/><path d="M806.04 1368.34L829.42 1361.62L899.55 1301.72L969.68 1299.38L1133.31 1314.29L1296.95 1328.6" stroke-width="2.7" stroke-linejoin="round"/></g><path d="M799.64 1362.14L812.44 1362.14L806.04 1374.54Z" fill="#7d7e82"/><path d="M823.02 1355.42L835.82 1355.42L829.42 1367.82Z" fill="#7d7e82"/><path d="M893.15 1295.52L905.95 1295.52L899.55 1307.92Z" fill="#7d7e82"/><path d="M963.28 1293.18L976.08 1293.18L969.68 1305.58Z" fill="#7d7e82"/><path d="M1126.91 1308.09L1139.71 1308.09L1133.31 1320.49Z" fill="#7d7e82"/><path d="M1290.55 1322.4L1303.35 1322.4L1296.95 1334.8Z" fill="#7d7e82"/>
<g stroke="#7d7e82" fill="none"><path d="M829.42 1357.24V1378.57M823.17 1357.24h12.5M823.17 1378.57h12.5M899.55 1364.55V1385M893.3 1364.55h12.5M893.3 1385h12.5M1133.31 1360.16V1375.36M1127.06 1360.16h12.5M1127.06 1375.36h12.5M1296.95 1355.19V1373.31M1290.7 1355.19h12.5M1290.7 1373.31h12.5" stroke-width="2.9"/><path d="M806.04 1368.34L829.42 1367.47L899.55 1374.19L969.68 1370.39L1133.31 1367.47L1296.95 1363.96" stroke-width="2.7" stroke-linejoin="round" stroke-dasharray="9.4 7" stroke-linecap="butt"/></g><path d="M799.64 1374.54L812.44 1374.54L806.04 1362.14Z" fill="#7d7e82"/><path d="M823.02 1373.67L835.82 1373.67L829.42 1361.27Z" fill="#7d7e82"/><path d="M893.15 1380.39L905.95 1380.39L899.55 1367.99Z" fill="#7d7e82"/><path d="M963.28 1376.59L976.08 1376.59L969.68 1364.19Z" fill="#7d7e82"/><path d="M1126.91 1373.67L1139.71 1373.67L1133.31 1361.27Z" fill="#7d7e82"/><path d="M1290.55 1370.16L1303.35 1370.16L1296.95 1357.76Z" fill="#7d7e82"/>
<g stroke="#18181c" fill="none"><path d="M829.42 1316.33V1351.4M823.17 1316.33h12.5M823.17 1351.4h12.5M899.55 1280.39V1311.36M893.3 1280.39h12.5M893.3 1311.36h12.5M969.68 1260.81V1281.27M963.43 1260.81h12.5M963.43 1281.27h12.5M1133.31 1271.62V1322.76M1127.06 1271.62h12.5M1127.06 1322.76h12.5M1296.95 1249.12V1309.61M1290.7 1249.12h12.5M1290.7 1309.61h12.5" stroke-width="2.9"/><path d="M806.04 1359.58L829.42 1333.86L899.55 1295.88L969.68 1271.04L1133.31 1296.75L1296.95 1279.22" stroke-width="2.9" stroke-linejoin="round"/></g><rect x="799.44" y="1352.98" width="13.2" height="13.2" fill="#18181c"/><rect x="822.82" y="1327.26" width="13.2" height="13.2" fill="#18181c"/><rect x="892.95" y="1289.28" width="13.2" height="13.2" fill="#18181c"/><rect x="963.08" y="1264.44" width="13.2" height="13.2" fill="#18181c"/><rect x="1126.71" y="1290.15" width="13.2" height="13.2" fill="#18181c"/><rect x="1290.35" y="1272.62" width="13.2" height="13.2" fill="#18181c"/>
<g stroke="#18181c" fill="none"><path d="M969.68 1361.04V1381.2M963.43 1361.04h12.5M963.43 1381.2h12.5M1133.31 1349.06V1376.23M1127.06 1349.06h12.5M1127.06 1376.23h12.5M1296.95 1342.05V1357.82M1290.7 1342.05h12.5M1290.7 1357.82h12.5" stroke-width="2.9"/><path d="M806.04 1359.58L829.42 1359.58L899.55 1361.04L969.68 1370.97L1133.31 1362.21L1296.95 1349.94" stroke-width="2.9" stroke-linejoin="round" stroke-dasharray="9.4 7" stroke-linecap="butt"/></g><circle cx="806.04" cy="1359.58" r="6.3" fill="#18181c"/><circle cx="829.42" cy="1359.58" r="6.3" fill="#18181c"/><circle cx="899.55" cy="1361.04" r="6.3" fill="#18181c"/><circle cx="969.68" cy="1370.97" r="6.3" fill="#18181c"/><circle cx="1133.31" cy="1362.21" r="6.3" fill="#18181c"/><circle cx="1296.95" cy="1349.94" r="6.3" fill="#18181c"/>
<path d="M806.04 1181.34V1518.4M796.54 1508.9H1298.4M796.54 1400.19H806.04M796.54 1291.49H806.04M796.54 1182.79H806.04M829.42 1508.9V1518.4M899.55 1508.9V1518.4M969.68 1508.9V1518.4M1133.31 1508.9V1518.4M1296.95 1508.9V1518.4" stroke="#18181c" stroke-width="2.9" fill="none"/>
<g font-weight="bold" font-size="26.5" fill="#1a1a1e"><text transform="translate(792.44 1516.7) scale(0.9 1)" text-anchor="end">0</text><text transform="translate(792.44 1407.99) scale(0.9 1)" text-anchor="end">500</text><text transform="translate(792.44 1299.29) scale(0.9 1)" text-anchor="end">1000</text><text transform="translate(792.44 1190.59) scale(0.9 1)" text-anchor="end">1500</text><text transform="translate(806.04 1545.9) scale(0.9 1)" text-anchor="middle">0</text><text transform="translate(829.42 1545.9) scale(0.9 1)" text-anchor="middle">1</text><text transform="translate(899.55 1545.9) scale(0.9 1)" text-anchor="middle">4</text><text transform="translate(969.68 1545.9) scale(0.9 1)" text-anchor="middle">7</text><text transform="translate(1133.31 1545.9) scale(0.9 1)" text-anchor="middle">14</text><text transform="translate(1296.95 1545.9) scale(0.9 1)" text-anchor="middle">21</text></g>
<text x="1051.49" y="1143.19" text-anchor="middle" font-weight="bold" font-size="30.5" fill="#1a1a1e" letter-spacing="1.1">TIBC</text>
<text x="1051.49" y="1579.8" text-anchor="middle" font-weight="bold" font-size="26.8" fill="#1a1a1e">Days</text>
<text transform="translate(721.99 1382.69) rotate(-90)" font-weight="bold" font-size="26.9" fill="#1a1a1e">ug/dL</text>
<g font-size="27.5" fill="#262626" text-anchor="middle"><text x="829.42" y="1305.06">ag</text><text x="897.5" y="1272.92">cf</text><text x="969.09" y="1253.92">ce</text><text x="1131.27" y="1265.32">ce</text><text x="1296.36" y="1239.9">cfg</text></g>
<text transform="translate(701.54 1131.5) scale(0.7467 1)" font-weight="bold" font-size="47.1" fill="#06638f">H</text>
</g>
<g id="panelI">
<g stroke="#7d7e82" fill="none"><path d="M1495.6 1224.9V1243.31M1489.35 1224.9h12.5M1489.35 1243.31h12.5M1566.12 1217.6V1231.62M1559.87 1217.6h12.5M1559.87 1231.62h12.5M1636.64 1257.92V1271.66M1630.39 1257.92h12.5M1630.39 1271.66h12.5M1801.19 1290.65V1325.71M1794.94 1290.65h12.5M1794.94 1325.71h12.5M1965.75 1310.23V1375.39M1959.5 1310.23h12.5M1959.5 1375.39h12.5" stroke-width="2.9"/><path d="M1472.09 1319.87L1495.6 1234.25L1566.12 1224.32L1636.64 1264.35L1801.19 1308.18L1965.75 1342.37" stroke-width="2.7" stroke-linejoin="round"/></g><path d="M1465.69 1313.67L1478.49 1313.67L1472.09 1326.07Z" fill="#7d7e82"/><path d="M1489.2 1228.05L1502 1228.05L1495.6 1240.45Z" fill="#7d7e82"/><path d="M1559.72 1218.12L1572.52 1218.12L1566.12 1230.52Z" fill="#7d7e82"/><path d="M1630.24 1258.15L1643.04 1258.15L1636.64 1270.55Z" fill="#7d7e82"/><path d="M1794.79 1301.98L1807.59 1301.98L1801.19 1314.38Z" fill="#7d7e82"/><path d="M1959.35 1336.17L1972.15 1336.17L1965.75 1348.57Z" fill="#7d7e82"/>
<g stroke="#7d7e82" fill="none"><path d="M1472.09 1287.73V1354.94M1465.84 1287.73h12.5M1465.84 1354.94h12.5M1495.6 1281.01V1339.45M1489.35 1281.01h12.5M1489.35 1339.45h12.5M1566.12 1286.27V1341.79M1559.87 1286.27h12.5M1559.87 1341.79h12.5M1636.64 1286.27V1346.75M1630.39 1286.27h12.5M1630.39 1346.75h12.5M1801.19 1287.73V1322.79M1794.94 1287.73h12.5M1794.94 1322.79h12.5M1965.75 1290.65V1343.25M1959.5 1290.65h12.5M1959.5 1343.25h12.5" stroke-width="2.9"/><path d="M1472.09 1321.33L1495.6 1310.23L1566.12 1314.03L1636.64 1316.95L1801.19 1305.26L1965.75 1317.53" stroke-width="2.7" stroke-linejoin="round" stroke-dasharray="9.4 7" stroke-linecap="butt"/></g><path d="M1465.69 1327.53L1478.49 1327.53L1472.09 1315.13Z" fill="#7d7e82"/><path d="M1489.2 1316.43L1502 1316.43L1495.6 1304.03Z" fill="#7d7e82"/><path d="M1559.72 1320.23L1572.52 1320.23L1566.12 1307.83Z" fill="#7d7e82"/><path d="M1630.24 1323.15L1643.04 1323.15L1636.64 1310.75Z" fill="#7d7e82"/><path d="M1794.79 1311.46L1807.59 1311.46L1801.19 1299.06Z" fill="#7d7e82"/><path d="M1959.35 1323.73L1972.15 1323.73L1965.75 1311.33Z" fill="#7d7e82"/>
<g stroke="#18181c" fill="none"><path d="M1495.6 1359.9V1408.99M1489.35 1359.9h12.5M1489.35 1408.99h12.5M1566.12 1373.93V1385.62M1559.87 1373.93h12.5M1559.87 1385.62h12.5M1636.64 1379.77V1400.23M1630.39 1379.77h12.5M1630.39 1400.23h12.5M1801.19 1395.84V1425.94M1794.94 1395.84h12.5M1794.94 1425.94h12.5M1965.75 1382.69V1430.03M1959.5 1382.69h12.5M1959.5 1430.03h12.5" stroke-width="2.9"/><path d="M1472.09 1406.07L1495.6 1384.74L1566.12 1379.77L1636.64 1390L1801.19 1410.45L1965.75 1406.07" stroke-width="2.9" stroke-linejoin="round"/></g><rect x="1465.49" y="1399.47" width="13.2" height="13.2" fill="#18181c"/><rect x="1489" y="1378.14" width="13.2" height="13.2" fill="#18181c"/><rect x="1559.52" y="1373.17" width="13.2" height="13.2" fill="#18181c"/><rect x="1630.04" y="1383.4" width="13.2" height="13.2" fill="#18181c"/><rect x="1794.59" y="1403.85" width="13.2" height="13.2" fill="#18181c"/><rect x="1959.15" y="1399.47" width="13.2" height="13.2" fill="#18181c"/>
<g stroke="#18181c" fill="none"><path d="M1495.6 1398.77V1412.21M1489.35 1398.77h12.5M1489.35 1412.21h12.5M1566.12 1375.97V1401.1M1559.87 1375.97h12.5M1559.87 1401.1h12.5M1636.64 1385.62V1401.69M1630.39 1385.62h12.5M1630.39 1401.69h12.5M1801.19 1387.08V1406.07M1794.94 1387.08h12.5M1794.94 1406.07h12.5" stroke-width="2.9"/><path d="M1472.09 1406.07L1495.6 1405.19L1566.12 1388.54L1636.64 1393.8L1801.19 1396.72L1965.75 1401.69" stroke-width="2.9" stroke-linejoin="round" stroke-dasharray="9.4 7" stroke-linecap="butt"/></g><circle cx="1472.09" cy="1406.07" r="6.3" fill="#18181c"/><circle cx="1495.6" cy="1405.19" r="6.3" fill="#18181c"/><circle cx="1566.12" cy="1388.54" r="6.3" fill="#18181c"/><circle cx="1636.64" cy="1393.8" r="6.3" fill="#18181c"/><circle cx="1801.19" cy="1396.72" r="6.3" fill="#18181c"/><circle cx="1965.75" cy="1401.69" r="6.3" fill="#18181c"/>
<path d="M1472.09 1186.55V1523.69M1462.59 1514.19H1967.2M1462.59 1432.64H1472.09M1462.59 1351.09H1472.09M1462.59 1269.54H1472.09M1462.59 1188H1472.09M1495.6 1514.19V1523.69M1566.12 1514.19V1523.69M1636.64 1514.19V1523.69M1801.19 1514.19V1523.69M1965.75 1514.19V1523.69" stroke="#18181c" stroke-width="2.9" fill="none"/>
<g font-weight="bold" font-size="26.5" fill="#1a1a1e"><text transform="translate(1458.49 1521.99) scale(0.9 1)" text-anchor="end">0</text><text transform="translate(1458.49 1440.44) scale(0.9 1)" text-anchor="end">200</text><text transform="translate(1458.49 1358.89) scale(0.9 1)" text-anchor="end">400</text><text transform="translate(1458.49 1277.34) scale(0.9 1)" text-anchor="end">600</text><text transform="translate(1458.49 1195.8) scale(0.9 1)" text-anchor="end">800</text><text transform="translate(1472.09 1551.19) scale(0.9 1)" text-anchor="middle">0</text><text transform="translate(1495.6 1551.19) scale(0.9 1)" text-anchor="middle">1</text><text transform="translate(1566.12 1551.19) scale(0.9 1)" text-anchor="middle">4</text><text transform="translate(1636.64 1551.19) scale(0.9 1)" text-anchor="middle">7</text><text transform="translate(1801.19 1551.19) scale(0.9 1)" text-anchor="middle">14</text><text transform="translate(1965.75 1551.19) scale(0.9 1)" text-anchor="middle">21</text></g>
<text x="1718.92" y="1148.4" text-anchor="middle" font-weight="bold" font-size="30.5" fill="#1a1a1e" letter-spacing="0.7">Ferritin</text>
<text x="1718.92" y="1585.09" text-anchor="middle" font-weight="bold" font-size="26.8" fill="#1a1a1e">Days</text>
<text transform="translate(1402.39 1391.39) rotate(-90)" font-weight="bold" font-size="26.9" fill="#1a1a1e">ng/mL</text>
<g font-size="27.5" fill="#262626" text-anchor="middle"><text x="1494.42" y="1217.72">eik</text><text x="1566.3" y="1208.37">eik</text><text x="1637.01" y="1250.74">dij</text><text x="1801.53" y="1280.84">il</text><text x="1964.87" y="1278.5">g</text></g>
<text transform="translate(1353.7 1131) scale(0.9549 1)" font-weight="bold" font-size="46.38" fill="#06638f">I</text>
</g>
<g id="panelJ">
<g stroke="#7d7e82" fill="none"><path d="M148.86 1871.56V1929.42M142.61 1871.56h12.5M142.61 1929.42h12.5M219.07 1785.94V1905.16M212.82 1785.94h12.5M212.82 1905.16h12.5M289.29 1869.51V1894.06M283.04 1869.51h12.5M283.04 1894.06h12.5M453.12 1798.51V1909.55M446.87 1798.51h12.5M446.87 1909.55h12.5M616.95 1920.65V1943.15M610.7 1920.65h12.5M610.7 1943.15h12.5" stroke-width="2.9"/><path d="M125.45 1962.14L148.86 1899.9L219.07 1845.26L289.29 1881.79L453.12 1854.03L616.95 1931.46" stroke-width="2.7" stroke-linejoin="round"/></g><path d="M119.05 1955.94L131.85 1955.94L125.45 1968.34Z" fill="#7d7e82"/><path d="M142.46 1893.7L155.26 1893.7L148.86 1906.1Z" fill="#7d7e82"/><path d="M212.67 1839.06L225.47 1839.06L219.07 1851.46Z" fill="#7d7e82"/><path d="M282.89 1875.59L295.69 1875.59L289.29 1887.99Z" fill="#7d7e82"/><path d="M446.72 1847.83L459.52 1847.83L453.12 1860.23Z" fill="#7d7e82"/><path d="M610.55 1925.26L623.35 1925.26L616.95 1937.66Z" fill="#7d7e82"/>
<g stroke="#7d7e82" fill="none"><path d="M125.45 1939.35V1986.4M119.2 1939.35h12.5M119.2 1986.4h12.5M148.86 1955.71V1993.41M142.61 1955.71h12.5M142.61 1993.41h12.5M219.07 1920.36V1981.72M212.82 1920.36h12.5M212.82 1981.72h12.5M289.29 1946.66V1979.68M283.04 1946.66h12.5M283.04 1979.68h12.5M453.12 1951.92V1993.41M446.87 1951.92h12.5M446.87 1993.41h12.5M616.95 1940.23V1986.4M610.7 1940.23h12.5M610.7 1986.4h12.5" stroke-width="2.9"/><path d="M125.45 1963.02L148.86 1974.71L219.07 1951.92L289.29 1963.6L453.12 1972.95L616.95 1963.6" stroke-width="2.7" stroke-linejoin="round" stroke-dasharray="9.4 7" stroke-linecap="butt"/></g><path d="M119.05 1969.22L131.85 1969.22L125.45 1956.82Z" fill="#7d7e82"/><path d="M142.46 1980.91L155.26 1980.91L148.86 1968.51Z" fill="#7d7e82"/><path d="M212.67 1958.12L225.47 1958.12L219.07 1945.72Z" fill="#7d7e82"/><path d="M282.89 1969.8L295.69 1969.8L289.29 1957.4Z" fill="#7d7e82"/><path d="M446.72 1979.15L459.52 1979.15L453.12 1966.75Z" fill="#7d7e82"/><path d="M610.55 1969.8L623.35 1969.8L616.95 1957.4Z" fill="#7d7e82"/>
<g stroke="#18181c" fill="none"><path d="M453.12 2024.97V2035.19M446.87 2024.97h12.5M446.87 2035.19h12.5" stroke-width="2.9"/><path d="M125.45 2043.96L148.86 2041.62L219.07 2033.73L289.29 2033.73L453.12 2029.94L616.95 2035.19" stroke-width="2.9" stroke-linejoin="round"/></g><rect x="118.85" y="2037.36" width="13.2" height="13.2" fill="#18181c"/><rect x="142.26" y="2035.02" width="13.2" height="13.2" fill="#18181c"/><rect x="212.47" y="2027.13" width="13.2" height="13.2" fill="#18181c"/><rect x="282.69" y="2027.13" width="13.2" height="13.2" fill="#18181c"/><rect x="446.52" y="2023.34" width="13.2" height="13.2" fill="#18181c"/><rect x="610.35" y="2028.59" width="13.2" height="13.2" fill="#18181c"/>
<g stroke="#18181c" fill="none"><path d="M125.45 2043.96L148.86 2043.96L219.07 2044.84L289.29 2043.08L453.12 2042.5L616.95 2041.92" stroke-width="2.9" stroke-linejoin="round" stroke-dasharray="9.4 7" stroke-linecap="butt"/></g><circle cx="125.45" cy="2043.96" r="6.3" fill="#18181c"/><circle cx="148.86" cy="2043.96" r="6.3" fill="#18181c"/><circle cx="219.07" cy="2044.84" r="6.3" fill="#18181c"/><circle cx="289.29" cy="2043.08" r="6.3" fill="#18181c"/><circle cx="453.12" cy="2042.5" r="6.3" fill="#18181c"/><circle cx="616.95" cy="2041.92" r="6.3" fill="#18181c"/>
<path d="M125.45 1724.59V2062.81M115.95 2053.31H618.4M115.95 1944.22H125.45M115.95 1835.13H125.45M115.95 1726.04H125.45M148.86 2053.31V2062.81M219.07 2053.31V2062.81M289.29 2053.31V2062.81M453.12 2053.31V2062.81M616.95 2053.31V2062.81" stroke="#18181c" stroke-width="2.9" fill="none"/>
<g font-weight="bold" font-size="26.5" fill="#1a1a1e"><text transform="translate(111.85 2061.11) scale(0.9 1)" text-anchor="end">0</text><text transform="translate(111.85 1952.02) scale(0.9 1)" text-anchor="end">500</text><text transform="translate(111.85 1842.93) scale(0.9 1)" text-anchor="end">1000</text><text transform="translate(111.85 1733.84) scale(0.9 1)" text-anchor="end">1500</text><text transform="translate(125.45 2090.31) scale(0.9 1)" text-anchor="middle">0</text><text transform="translate(148.86 2090.31) scale(0.9 1)" text-anchor="middle">1</text><text transform="translate(219.07 2090.31) scale(0.9 1)" text-anchor="middle">4</text><text transform="translate(289.29 2090.31) scale(0.9 1)" text-anchor="middle">7</text><text transform="translate(453.12 2090.31) scale(0.9 1)" text-anchor="middle">14</text><text transform="translate(616.95 2090.31) scale(0.9 1)" text-anchor="middle">21</text></g>
<text x="371.2" y="1686.44" text-anchor="middle" font-weight="bold" font-size="30.5" fill="#1a1a1e" letter-spacing="0.9">Total Liver Fe</text>
<text x="371.2" y="2124.21" text-anchor="middle" font-weight="bold" font-size="26.8" fill="#1a1a1e">Days</text>
<text transform="translate(43.85 1948.79) rotate(-90)" font-weight="bold" font-size="27.1" fill="#1a1a1e">g Fe/liver</text>
<g font-size="27.5" fill="#262626" text-anchor="middle"><text x="146.79" y="1863.79">eil</text><text x="218.38" y="1775.25">eil</text><text x="289.09" y="1860.87">bfil</text><text x="452.73" y="1788.69">aeil</text><text x="616.95" y="1912.88">il</text></g>
<text transform="translate(12.89 1664.54) scale(0.7726 1)" font-weight="bold" font-size="45.71" fill="#06638f">J</text>
</g>
<g id="panelK">
<g stroke="#7d7e82" fill="none"><path d="M828.25 1869.51V1915.97M822 1869.51h12.5M822 1915.97h12.5M898.38 1824.81V1907.5M892.13 1824.81h12.5M892.13 1907.5h12.5M968.51 1856.95V1895.52M962.26 1856.95h12.5M962.26 1895.52h12.5M1132.14 1813.12V1868.64M1125.89 1813.12h12.5M1125.89 1868.64h12.5M1295.78 1758.18V1840M1289.53 1758.18h12.5M1289.53 1840h12.5" stroke-width="2.9"/><path d="M804.87 1943.15L828.25 1892.01L898.38 1866.3L968.51 1875.94L1132.14 1840.88L1295.78 1799.09" stroke-width="2.7" stroke-linejoin="round"/></g><path d="M798.47 1936.95L811.27 1936.95L804.87 1949.35Z" fill="#7d7e82"/><path d="M821.85 1885.81L834.65 1885.81L828.25 1898.21Z" fill="#7d7e82"/><path d="M891.98 1860.1L904.78 1860.1L898.38 1872.5Z" fill="#7d7e82"/><path d="M962.11 1869.74L974.91 1869.74L968.51 1882.14Z" fill="#7d7e82"/><path d="M1125.74 1834.68L1138.54 1834.68L1132.14 1847.08Z" fill="#7d7e82"/><path d="M1289.38 1792.89L1302.18 1792.89L1295.78 1805.29Z" fill="#7d7e82"/>
<g stroke="#7d7e82" fill="none"><path d="M804.87 1924.16V1963.6M798.62 1924.16h12.5M798.62 1963.6h12.5M828.25 1922.69V1958.64M822 1922.69h12.5M822 1958.64h12.5M898.38 1924.16V1963.6M892.13 1924.16h12.5M892.13 1963.6h12.5M968.51 1915.97V1972.95M962.26 1915.97h12.5M962.26 1972.95h12.5M1132.14 1919.77V1959.22M1125.89 1919.77h12.5M1125.89 1959.22h12.5M1295.78 1924.16V1950.45M1289.53 1924.16h12.5M1289.53 1950.45h12.5" stroke-width="2.9"/><path d="M804.87 1943.73L828.25 1941.1L898.38 1944.03L968.51 1944.61L1132.14 1938.77L1295.78 1937.31" stroke-width="2.7" stroke-linejoin="round" stroke-dasharray="9.4 7" stroke-linecap="butt"/></g><path d="M798.47 1949.93L811.27 1949.93L804.87 1937.53Z" fill="#7d7e82"/><path d="M821.85 1947.3L834.65 1947.3L828.25 1934.9Z" fill="#7d7e82"/><path d="M891.98 1950.23L904.78 1950.23L898.38 1937.83Z" fill="#7d7e82"/><path d="M962.11 1950.81L974.91 1950.81L968.51 1938.41Z" fill="#7d7e82"/><path d="M1125.74 1944.97L1138.54 1944.97L1132.14 1932.57Z" fill="#7d7e82"/><path d="M1289.38 1943.51L1302.18 1943.51L1295.78 1931.11Z" fill="#7d7e82"/>
<g stroke="#18181c" fill="none"><path d="M828.25 1973.83V1998.08M822 1973.83h12.5M822 1998.08h12.5M898.38 1955.71V1976.75M892.13 1955.71h12.5M892.13 1976.75h12.5M968.51 1935.84V1961.56M962.26 1935.84h12.5M962.26 1961.56h12.5M1132.14 1921.23V1955.71M1125.89 1921.23h12.5M1125.89 1955.71h12.5M1295.78 1903.12V1930.88M1289.53 1903.12h12.5M1289.53 1930.88h12.5" stroke-width="2.9"/><path d="M804.87 2005.1L828.25 1986.1L898.38 1965.94L968.51 1948.12L1132.14 1938.18L1295.78 1916.85" stroke-width="2.9" stroke-linejoin="round"/></g><rect x="798.27" y="1998.5" width="13.2" height="13.2" fill="#18181c"/><rect x="821.65" y="1979.5" width="13.2" height="13.2" fill="#18181c"/><rect x="891.78" y="1959.34" width="13.2" height="13.2" fill="#18181c"/><rect x="961.91" y="1941.52" width="13.2" height="13.2" fill="#18181c"/><rect x="1125.54" y="1931.58" width="13.2" height="13.2" fill="#18181c"/><rect x="1289.18" y="1910.25" width="13.2" height="13.2" fill="#18181c"/>
<g stroke="#18181c" fill="none"><path d="M804.87 1995.75V2014.74M798.62 1995.75h12.5M798.62 2014.74h12.5M828.25 1984.06V2017.08M822 1984.06h12.5M822 2017.08h12.5M898.38 1986.98V2005.97M892.13 1986.98h12.5M892.13 2005.97h12.5M968.51 1987.86V2005.97M962.26 1987.86h12.5M962.26 2005.97h12.5M1132.14 1986.98V2000.71M1125.89 1986.98h12.5M1125.89 2000.71h12.5M1295.78 1986.1V2003.64M1289.53 1986.1h12.5M1289.53 2003.64h12.5" stroke-width="2.9"/><path d="M804.87 2005.39L828.25 2000.71L898.38 1996.62L968.51 1996.62L1132.14 1993.7L1295.78 1994.87" stroke-width="2.9" stroke-linejoin="round" stroke-dasharray="9.4 7" stroke-linecap="butt"/></g><circle cx="804.87" cy="2005.39" r="6.3" fill="#18181c"/><circle cx="828.25" cy="2000.71" r="6.3" fill="#18181c"/><circle cx="898.38" cy="1996.62" r="6.3" fill="#18181c"/><circle cx="968.51" cy="1996.62" r="6.3" fill="#18181c"/><circle cx="1132.14" cy="1993.7" r="6.3" fill="#18181c"/><circle cx="1295.78" cy="1994.87" r="6.3" fill="#18181c"/>
<path d="M804.87 1721.67V2061.35M795.37 2051.85H1297.23M795.37 1969.67H804.87M795.37 1887.48H804.87M795.37 1805.3H804.87M795.37 1723.12H804.87M828.25 2051.85V2061.35M898.38 2051.85V2061.35M968.51 2051.85V2061.35M1132.14 2051.85V2061.35M1295.78 2051.85V2061.35" stroke="#18181c" stroke-width="2.9" fill="none"/>
<g font-weight="bold" font-size="26.5" fill="#1a1a1e"><text transform="translate(791.27 2059.65) scale(0.9 1)" text-anchor="end">0</text><text transform="translate(791.27 1977.47) scale(0.9 1)" text-anchor="end">50</text><text transform="translate(791.27 1895.28) scale(0.9 1)" text-anchor="end">100</text><text transform="translate(791.27 1813.1) scale(0.9 1)" text-anchor="end">150</text><text transform="translate(791.27 1730.92) scale(0.9 1)" text-anchor="end">200</text><text transform="translate(804.87 2088.85) scale(0.9 1)" text-anchor="middle">0</text><text transform="translate(828.25 2088.85) scale(0.9 1)" text-anchor="middle">1</text><text transform="translate(898.38 2088.85) scale(0.9 1)" text-anchor="middle">4</text><text transform="translate(968.51 2088.85) scale(0.9 1)" text-anchor="middle">7</text><text transform="translate(1132.14 2088.85) scale(0.9 1)" text-anchor="middle">14</text><text transform="translate(1295.78 2088.85) scale(0.9 1)" text-anchor="middle">21</text></g>
<text x="1050.32" y="1683.52" text-anchor="middle" font-weight="bold" font-size="30.5" fill="#1a1a1e" letter-spacing="0.8">Total Spleen Fe</text>
<text x="1050.32" y="2122.75" text-anchor="middle" font-weight="bold" font-size="26.8" fill="#1a1a1e">Days</text>
<text transform="translate(735.02 1946.47) rotate(-90)" font-weight="bold" font-size="27.0" fill="#1a1a1e">g Fe/liver</text>
<g font-size="27.5" fill="#262626" text-anchor="middle"><text x="826.49" y="1862.33">fik</text><text x="897.5" y="1814.99">afik</text><text x="967.63" y="1848.6">afik</text><text x="1131.27" y="1805.35">bfik</text><text x="1294.9" y="1751.29">cfil</text></g>
<text transform="translate(691.43 1664.15) scale(0.7049 1)" font-weight="bold" font-size="43.91" fill="#06638f" stroke="#06638f" stroke-width="1.7" stroke-linejoin="miter">K</text>
</g>
<g id="legend">
<path d="M1518 1817.9H1561.5" stroke="#18181c" stroke-width="3.2" fill="none" stroke-dasharray="9.6 9.7"/>
<circle cx="1539.5" cy="1817.9" r="8" fill="#18181c"/>
<text x="1586.2" y="1828.7" font-size="33.6" fill="#262626">Control B6</text>
<path d="M1518 1865.8H1561.5" stroke="#18181c" stroke-width="3.2" fill="none"/>
<rect x="1531.12" y="1857.42" width="16.76" height="16.76" fill="#18181c"/>
<text x="1586.2" y="1876.3" font-size="33.6" fill="#262626">Infected B6</text>
<path d="M1518 1912.8H1561.5" stroke="#7d7e82" stroke-width="3.2" fill="none" stroke-dasharray="9.6 9.7"/>
<path d="M1531.37 1920.67L1547.63 1920.67L1539.5 1904.93Z" fill="#7d7e82"/>
<text x="1586.2" y="1923.6" font-size="33.6" fill="#262626">Control Hamp-/-</text>
<path d="M1518 1960.2H1561.5" stroke="#7d7e82" stroke-width="3.2" fill="none"/>
<path d="M1531.37 1952.33L1547.63 1952.33L1539.5 1968.07Z" fill="#7d7e82"/>
<text x="1586.2" y="1971" font-size="33.6" fill="#262626">Infected Hamp-/-</text>
<path d="M1864.7 1793V1985" stroke="#f3f3f3" stroke-width="1"/>
</g>
</svg>
</body>
</html>
